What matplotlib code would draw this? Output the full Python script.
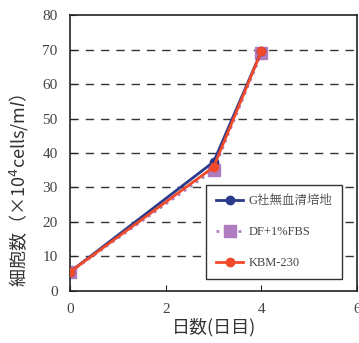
import matplotlib.pyplot as plt

days = [0, 3, 4]
g_company = [5.5, 37.4, 69.6]
df_fbs = [5.4, 35.1, 69.0]
kbm230 = [5.5, 35.9, 69.6]
labels = ['G社無血清培地', 'DF+1%FBS', 'KBM-230']

fig = plt.figure(figsize=(3.59, 3.43), dpi=100)
ax = fig.add_axes([0.195, 0.152, 0.800, 0.804])

serif = ['Liberation Serif', 'Noto Serif CJK JP', 'Noto Sans CJK JP']
cjk = ['Noto Sans CJK JP', 'DejaVu Sans']

ax.plot(days, g_company, color='#2b3a8c', lw=2, marker='o', ms=6, label=labels[0], zorder=3)
ax.plot(days, df_fbs, color='#b07cc0', lw=2, ls=':', marker='s', ms=8, label=labels[1], zorder=2)
ax.plot(days, kbm230, color='#f04a2a', lw=2, marker='o', ms=6, label=labels[2], zorder=4)

ax.set_xlim(0, 6)
ax.set_ylim(0, 80)
ax.set_xticks([0, 2, 4, 6])
ax.set_yticks(range(0, 81, 10))
ax.tick_params(direction='in', length=4, labelsize=11, colors='#222222')
ax.tick_params(axis='x', pad=9)
ax.tick_params(axis='y', pad=9)
for t in ax.get_xticklabels() + ax.get_yticklabels():
    t.set_fontfamily(serif)
    t.set_color('#444444')
for y in range(10, 80, 10):
    ax.axhline(y, color='#333333', lw=1, ls=(0, (6, 5)), zorder=1)
for s in ax.spines.values():
    s.set_linewidth(1.2)
    s.set_color('#222222')

ax.set_xlabel('日数(日目)', family=cjk, fontsize=13, color='#333333', labelpad=1)
ax.set_ylabel('細胞数（×10$^4$cells/m$l$）', family=cjk, fontsize=13, color='#333333')
ax.yaxis.set_label_coords(-0.135, 0.365)

leg = ax.legend(loc='lower right', bbox_to_anchor=(0.948, 0.043), prop={'family': serif, 'size': 9},
                fancybox=False, edgecolor='#333333', framealpha=1, labelspacing=1.5,
                handlelength=2.2, handletextpad=0.4, borderpad=0.8, borderaxespad=0)
leg.get_frame().set_linewidth(1.0)
for t in leg.get_texts():
    t.set_color('#444444')

fig.savefig('out.png', dpi=100)
